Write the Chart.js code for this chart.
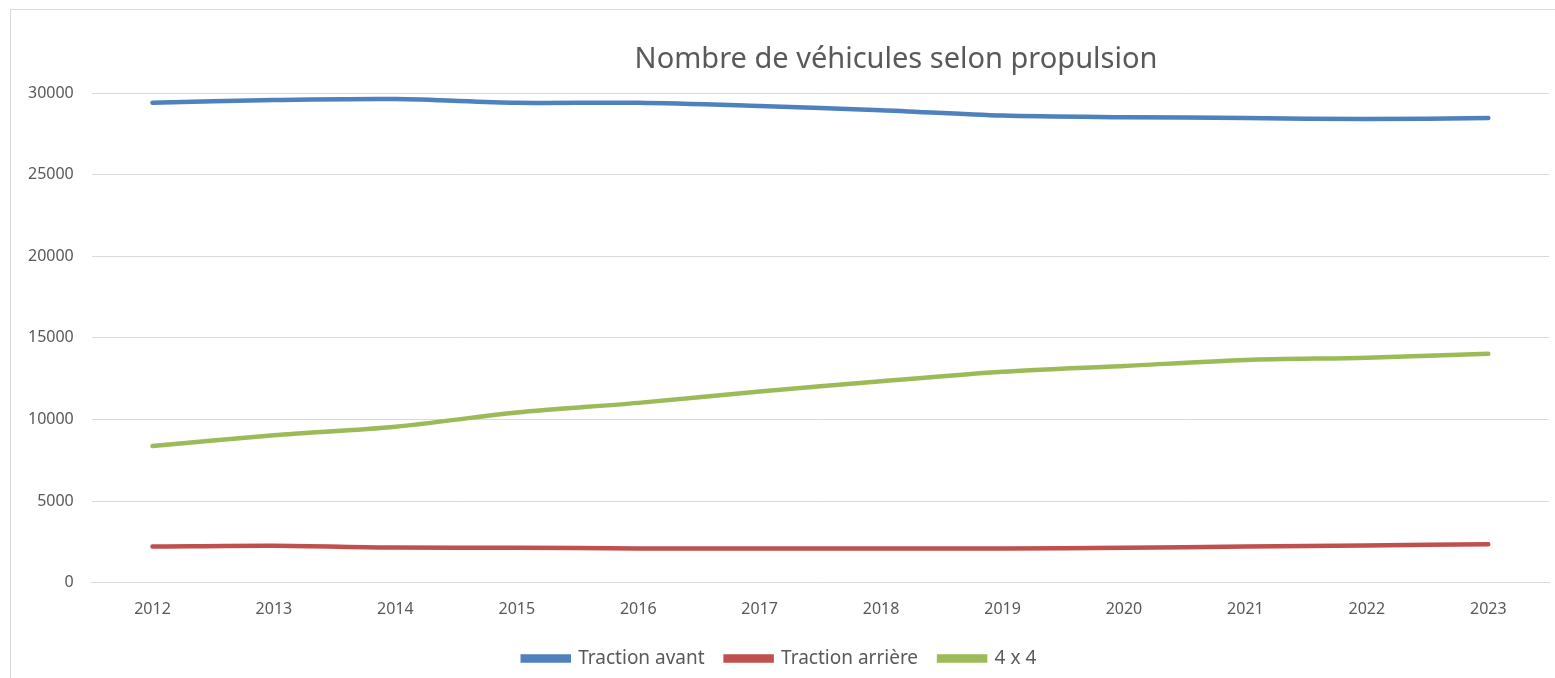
<!DOCTYPE html>
<html>
<head>
<meta charset="utf-8">
<script src="https://cdn.jsdelivr.net/npm/chart.js@4.4.1/dist/chart.umd.min.js"></script>
<style>
  html, body { margin: 0; padding: 0; background: #fff; }
  #wrap { position: relative; width: 1555px; height: 678px; }
  #frame { position: absolute; left: 10px; top: 9px; width: 1560px; height: 680px; border: 1px solid #d9d9d9; box-sizing: border-box; }
  canvas { position: absolute; left: 0; top: 0; }
</style>
</head>
<body>
<div id="wrap">
  <div id="frame"></div>
  <canvas id="chart" width="1555" height="678"></canvas>
</div>
<script>
const years = ["2012", "2013", "2014", "2015", "2016", "2017", "2018", "2019", "2020", "2021", "2022", "2023"];
const tractionAvant = [29400, 29570, 29630, 29400, 29400, 29200, 28950, 28620, 28520, 28470, 28400, 28470];
const tractionArriere = [2220, 2270, 2160, 2150, 2100, 2100, 2100, 2100, 2150, 2220, 2290, 2360];
const quatreQuatre = [8380, 9040, 9560, 10430, 11020, 11720, 12340, 12920, 13280, 13650, 13790, 14030];

const titleText = "Nombre de véhicules selon propulsion";
const textColor = "#595959";
const fontFamily = "'Noto Sans', 'Open Sans', sans-serif";

// title drawn by hand, it is offset to the right like in the original
const titlePlugin = {
  id: "offsetTitle",
  afterDraw(chart) {
    const ctx = chart.ctx;
    ctx.save();
    ctx.font = "29px " + fontFamily;
    ctx.fillStyle = textColor;
    ctx.textAlign = "center";
    ctx.textBaseline = "middle";
    ctx.fillText(titleText, 896, 60);
    ctx.restore();
  }
};

function makeSet(label, data, color) {
  return {
    label,
    data,
    borderColor: color,
    backgroundColor: color,
    borderWidth: 4.5,
    pointRadius: 0,
    tension: 0.3,
    borderCapStyle: "round"
  };
}

new Chart(document.getElementById("chart"), {
  type: "line",
  data: {
    labels: years,
    datasets: [
      makeSet("Traction avant", tractionAvant, "#4f81bd"),
      makeSet("Traction arrière", tractionArriere, "#c0504d"),
      makeSet("4 x 4", quatreQuatre, "#9bbb59")
    ]
  },
  options: {
    responsive: false,
    animation: false,
    layout: { padding: { left: 10, right: 6, top: 93, bottom: 0 } },
    plugins: {
      legend: {
        position: "bottom",
        labels: {
          boxWidth: 46,
          boxHeight: 4,
          padding: 21,
          color: textColor,
          font: { family: fontFamily, size: 19 }
        }
      },
      tooltip: { enabled: false }
    },
    scales: {
      x: {
        offset: true,
        grid: { display: false },
        border: { color: "#d9d9d9" },
        ticks: { color: textColor, padding: 9, font: { family: fontFamily, size: 16 } }
      },
      y: {
        min: 0,
        max: 30000,
        grid: { color: "#d9d9d9", drawTicks: false },
        border: { display: false },
        ticks: {
          stepSize: 5000,
          color: textColor,
          padding: 18,
          font: { family: fontFamily, size: 16 },
          callback: v => String(v)
        }
      }
    }
  },
  plugins: [titlePlugin]
});
</script>
</body>
</html>
